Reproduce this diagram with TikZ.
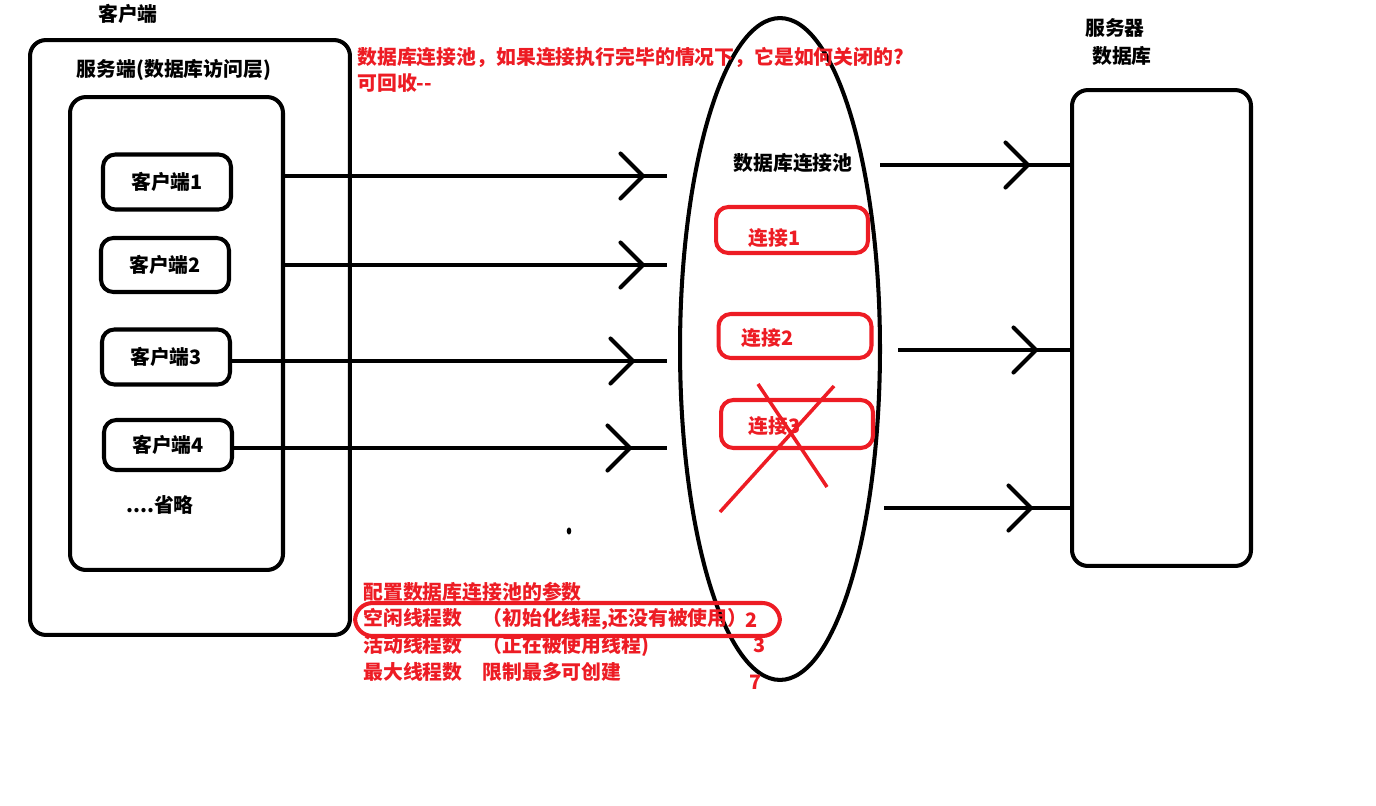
\documentclass[tikz,border=0pt]{standalone}
\usepackage{fontspec}
\setmainfont{Noto Sans CJK SC}
\usepackage{tikz}
\usetikzlibrary{shapes,arrows.meta,positioning,decorations.markings}
\definecolor{paintred}{RGB}{237,28,36}

\begin{document}
\begin{tikzpicture}[
    x=0.02cm, y=-0.02cm,
    font=\fontsize{11.3}{13}\selectfont\bfseries,
    bigbox/.style={
        rectangle, rounded corners=9pt, draw=black, line width=2.3pt, inner sep=0pt
    },
    clientbox/.style={
        rectangle, rounded corners=7pt, draw=black, line width=2.3pt,
        minimum width=2.56cm, inner sep=0pt
    },
    connbox/.style={
        rectangle, rounded corners=7pt, draw=paintred, line width=2.3pt,
        minimum width=3.04cm, minimum height=0.92cm, inner sep=0pt
    },
    plaintext/.style={inner sep=0pt},
    redtext/.style={text=paintred, anchor=west, inner sep=0pt},
    flow/.style={
        line width=2.3pt, draw=black,
        postaction={decorate, decoration={markings,
            mark=at position -#1 with {\arrow{Straight Barb[length=0.45cm, width=0.9cm, round]}}}}
    }
]
\useasboundingbox (0,0) rectangle (1376,805);

% Left: client side
\node[plaintext] (clienttitle) at (128,14) {客户端};
\node[bigbox, minimum width=6.4cm, minimum height=11.9cm] (outer) at (190,337.5) {};
\node[plaintext] (servicetitle) at (174,70) {服务端(数据库访问层)};
\node[bigbox, minimum width=4.26cm, minimum height=9.46cm] (inner) at (176.5,333.5) {};

\node[clientbox, minimum height=1.1cm] (c1) at (167,182) {客户端1};
\node[clientbox, minimum height=1.08cm] (c2) at (165,265) {客户端2};
\node[clientbox, minimum height=1.1cm] (c3) at (166,357) {客户端3};
\node[clientbox, minimum height=1.0cm] (c4) at (168,445) {客户端4};
\node[plaintext] (more) at (160,505) {....省略};

% Middle: connection pool
\node[draw=black, ellipse, line width=2.3pt, minimum width=4cm, minimum height=13.24cm, inner sep=0pt] (pool) at (780,349) {};
\node[plaintext] (pooltitle) at (793,163) {数据库连接池};

\node[connbox] (conn1) at (792,230) {};
\node[redtext] (conn1text) at (748,238) {连接1};
\node[connbox, minimum width=3.06cm, minimum height=0.88cm] (conn2) at (795,336) {};
\node[redtext] (conn2text) at (741,338) {连接2};
\node[connbox, minimum height=0.96cm] (conn3) at (797,424) {};
\node[redtext] (conn3text) at (748,426) {连接3};

% Crossed-out connection
\draw[paintred, line width=2pt] (758,384) -- (827,487) (834,386) -- (720,512);

% Right: server / database
\node[plaintext] (servertitle) at (1115,28) {服务器};
\node[plaintext] (dbtitle) at (1122,56) {数据库};
\node[bigbox, minimum width=3.58cm, minimum height=9.52cm] (server) at (1161.5,328) {};

% Requests from clients into the pool
\coordinate (in1) at (667,176);
\coordinate (in2) at (667,265);
\coordinate (in3) at (667,361);
\coordinate (in4) at (667,448);
\draw[flow=0.44cm] (inner.east |- in1) -- (in1);
\draw[flow=0.44cm] (inner.east |- in2) -- (in2);
\draw[flow=0.64cm] (c3.east |- in3) -- (in3);
\draw[flow=0.7cm] (c4.east |- in4) -- (in4);

% Pool to database
\coordinate (out1) at (880,165);
\coordinate (out2) at (898,350);
\coordinate (out3) at (884,508);
\draw[flow=0.8cm] (out1) -- (server.west |- out1);
\draw[flow=0.64cm] (out2) -- (server.west |- out2);
\draw[flow=0.74cm] (out3) -- (server.west |- out3);

\fill (569,531) ellipse (1.3pt and 2pt);

% Red notes
\node[redtext] (question) at (357,57) {数据库连接池，如果连接执行完毕的情况下，它是如何关闭的?};
\node[redtext] (answer) at (357,83) {可回收-{}-};

\node[redtext] (params) at (363,592) {配置数据库连接池的参数};
\node[rectangle, rounded corners=10pt, draw=paintred, line width=2.3pt, minimum width=8.5cm, minimum height=0.66cm, inner sep=0pt] (idlebox) at (567.5,619.5) {};
\node[redtext] (idle) at (363,619) {空闲线程数\quad（初始化线程,还没有被使用）};
\node[redtext] (idlenum) at (745,620) {2};
\node[redtext] (active) at (363,646) {活动线程数\quad（正在被使用线程)};
\node[redtext] (activenum) at (753,645) {3};
\node[redtext] (maxi) at (363,672) {最大线程数\quad 限制最多可创建};
\node[redtext] (maxinum) at (749,682) {7};
\end{tikzpicture}
\end{document}
